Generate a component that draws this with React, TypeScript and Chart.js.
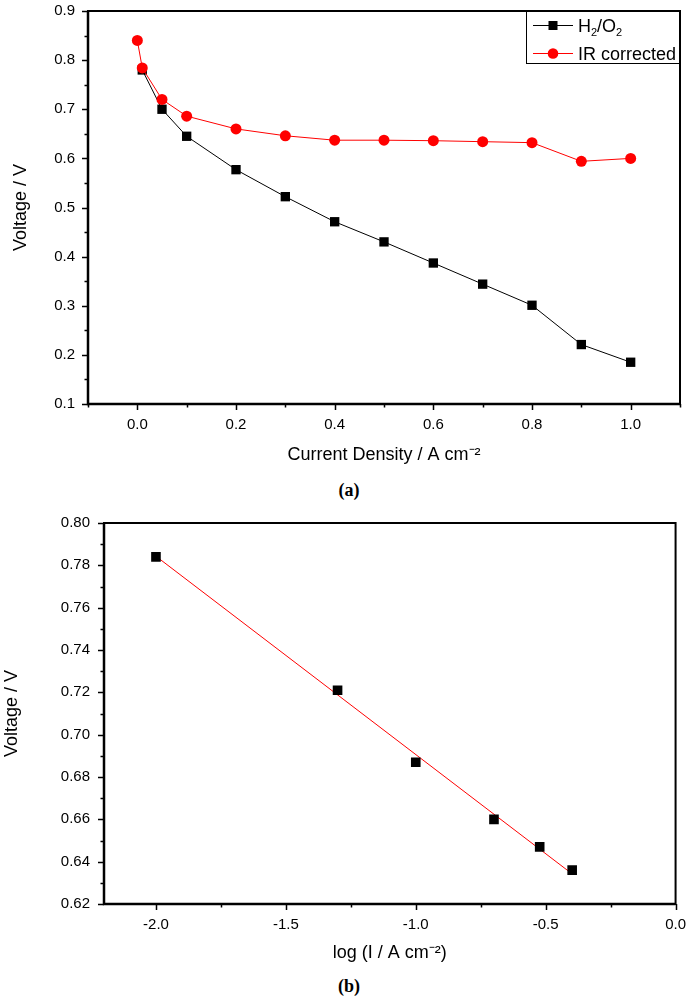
import React, { useEffect, useRef } from "react";
import { Chart, registerables } from "chart.js";

Chart.register(...registerables);

// ---------- Data: panel (a) polarization curves ----------
const currentDensity = [0, 0.01, 0.05, 0.1, 0.2, 0.3, 0.4, 0.5, 0.6, 0.7, 0.8, 0.9, 1.0];
const voltageH2O2: (number | null)[] = [null, 0.78, 0.7, 0.645, 0.577, 0.522, 0.471, 0.43, 0.387, 0.344, 0.301, 0.221, 0.185];
const voltageIRCorrected = [0.84, 0.784, 0.72, 0.686, 0.66, 0.646, 0.637, 0.637, 0.636, 0.634, 0.632, 0.594, 0.6];

// ---------- Data: panel (b) Tafel plot ----------
const logCurrent = [-2.0, -1.301, -1.0, -0.699, -0.523, -0.398];
const tafelVoltage = [0.784, 0.721, 0.687, 0.66, 0.647, 0.636];
const fitLogCurrent = [-2.0, -0.4];
const fitVoltage = [0.7843, 0.6344];

// ---------- Tick values ----------
const xMajorA = [0, 0.2, 0.4, 0.6, 0.8, 1.0];
const xMinorA = [-0.1, 0.1, 0.3, 0.5, 0.7, 0.9, 1.1];
const yMajorA = [0.1, 0.2, 0.3, 0.4, 0.5, 0.6, 0.7, 0.8, 0.9];
const yMinorA = [0.15, 0.25, 0.35, 0.45, 0.55, 0.65, 0.75, 0.85];

const xMajorB = [-2.0, -1.5, -1.0, -0.5, 0.0];
const xMinorB = [-1.75, -1.25, -0.75, -0.25];
const yMajorB = [0.62, 0.64, 0.66, 0.68, 0.7, 0.72, 0.74, 0.76, 0.78, 0.8];
const yMinorB = [0.63, 0.65, 0.67, 0.69, 0.71, 0.73, 0.75, 0.77, 0.79];

const FONT = "'Liberation Sans', Arial, sans-serif";

const frameTicksPlugin = {
  id: "frameTicks",
  afterDraw(chart: any, _args: any, opts: any) {
    const { ctx, chartArea } = chart;
    const { left, right, top, bottom } = chartArea;
    const xs = chart.scales.x;
    const ys = chart.scales.y;
    ctx.save();
    ctx.strokeStyle = "#000";
    ctx.lineWidth = 2;
    ctx.strokeRect(left, top, right - left, bottom - top);
    ctx.lineWidth = 2.5;
    ctx.beginPath();
    ctx.moveTo(left, top);
    ctx.lineTo(left, bottom);
    ctx.lineTo(right, bottom);
    ctx.stroke();
    ctx.lineWidth = 1.5;
    ctx.beginPath();
    (opts.xMajor || []).forEach((v: number) => {
      const p = Math.round(xs.getPixelForValue(v)) + 0.5;
      ctx.moveTo(p, bottom);
      ctx.lineTo(p, bottom + 6);
    });
    (opts.xMinor || []).forEach((v: number) => {
      const p = Math.round(xs.getPixelForValue(v)) + 0.5;
      ctx.moveTo(p, bottom);
      ctx.lineTo(p, bottom + 3.5);
    });
    (opts.yMajor || []).forEach((v: number) => {
      const p = Math.round(ys.getPixelForValue(v)) + 0.5;
      ctx.moveTo(left, p);
      ctx.lineTo(left - 6, p);
    });
    (opts.yMinor || []).forEach((v: number) => {
      const p = Math.round(ys.getPixelForValue(v)) + 0.5;
      ctx.moveTo(left, p);
      ctx.lineTo(left - 3.5, p);
    });
    ctx.stroke();
    ctx.restore();
  },
};

const legendBoxPlugin = {
  id: "legendBox",
  afterDraw(chart: any, _args: any, opts: any) {
    if (!opts || !opts.show) return;
    const { ctx, chartArea } = chart;
    const w = 154;
    const h = 53;
    const x0 = chartArea.right - w;
    const y0 = chartArea.top;
    ctx.save();
    ctx.fillStyle = "#fff";
    ctx.fillRect(x0, y0, w, h);
    ctx.strokeStyle = "#000";
    ctx.lineWidth = 1;
    ctx.strokeRect(x0 + 0.5, y0 + 0.5, w - 1, h - 1);

    const rows = [y0 + 14.5, y0 + 42.5];
    const ds = chart.data.datasets;
    rows.forEach((ry, i) => {
      const d = ds[i];
      ctx.strokeStyle = d.borderColor;
      ctx.lineWidth = 1;
      ctx.beginPath();
      ctx.moveTo(x0 + 7, ry);
      ctx.lineTo(x0 + 47, ry);
      ctx.stroke();
      ctx.fillStyle = d.pointBackgroundColor;
      if (d.pointStyle === "rect") {
        ctx.fillRect(x0 + 27 - 4.5, ry - 4.5, 9, 9);
      } else {
        ctx.beginPath();
        ctx.arc(x0 + 27, ry, 5.3, 0, Math.PI * 2);
        ctx.fill();
      }
    });

    // texts
    ctx.fillStyle = "#000";
    ctx.textBaseline = "alphabetic";
    const big = `18px ${FONT}`;
    const small = `11px ${FONT}`;
    let tx = x0 + 52;
    const b1 = rows[0] + 6.5;
    const parts: [string, boolean][] = [["H", false], ["2", true], ["/O", false], ["2", true]];
    parts.forEach(([t, sub]) => {
      ctx.font = sub ? small : big;
      ctx.fillText(t, tx, sub ? b1 + 4 : b1);
      tx += ctx.measureText(t).width;
    });
    ctx.font = big;
    ctx.fillText(ds[1].label, x0 + 52, rows[1] + 6.5);
    ctx.restore();
  },
};

function setTicks(values: number[]) {
  return (scale: any) => {
    scale.ticks = values.map((v) => ({ value: v }));
  };
}

function ChartA() {
  const ref = useRef<HTMLCanvasElement | null>(null);
  useEffect(() => {
    if (!ref.current) return;
    const chart = new Chart(ref.current, {
      type: "line",
      data: {
        datasets: [
          {
            label: "H2/O2",
            data: currentDensity.map((x, i) => ({ x, y: voltageH2O2[i] })),
            borderColor: "#000000",
            backgroundColor: "#000000",
            pointBackgroundColor: "#000000",
            pointBorderColor: "#000000",
            pointStyle: "rect",
            pointRadius: 6.6,
            pointBorderWidth: 0,
            borderWidth: 1,
            spanGaps: true,
            order: 2,
          },
          {
            label: "IR corrected",
            data: currentDensity.map((x, i) => ({ x, y: voltageIRCorrected[i] })),
            borderColor: "#ff0000",
            backgroundColor: "#ff0000",
            pointBackgroundColor: "#ff0000",
            pointBorderColor: "#ff0000",
            pointStyle: "circle",
            pointRadius: 5.5,
            pointBorderWidth: 0,
            borderWidth: 1,
            order: 1,
          },
        ] as any,
      },
      options: {
        responsive: false,
        animation: false,
        devicePixelRatio: 1,
        layout: { padding: { left: 0, right: 18, top: 21, bottom: 0 } },
        plugins: {
          legend: { display: false },
          tooltip: { enabled: false },
          frameTicks: { xMajor: xMajorA, xMinor: xMinorA, yMajor: yMajorA, yMinor: yMinorA },
          legendBox: { show: true },
        } as any,
        scales: {
          x: {
            type: "linear",
            min: -0.1,
            max: 1.1,
            grid: { display: false, drawTicks: false },
            border: { display: false },
            afterBuildTicks: setTicks(xMajorA),
            afterFit: (s: any) => {
              s.height = 66;
            },
            ticks: {
              padding: 12,
              color: "#000",
              font: { family: FONT, size: 15 },
              callback: (v: any) => Number(v).toFixed(1),
            },
            title: {
              display: true,
              text: "Current Density / A cm\u207B\u00B2",
              color: "#000",
              font: { family: FONT, size: 18 },
              padding: { top: 0, bottom: 4 },
            },
          },
          y: {
            type: "linear",
            min: 0.1,
            max: 0.9,
            grid: { display: false, drawTicks: false },
            border: { display: false },
            afterBuildTicks: setTicks(yMajorA),
            afterFit: (s: any) => {
              s.width = 88;
            },
            ticks: {
              padding: 13,
              color: "#000",
              font: { family: FONT, size: 15 },
              callback: (v: any) => Number(v).toFixed(1),
            },
            title: {
              display: true,
              text: "Voltage / V",
              color: "#000",
              font: { family: FONT, size: 18 },
              padding: { top: 10, bottom: 0 },
            },
          },
        },
      } as any,
      plugins: [frameTicksPlugin, legendBoxPlugin],
    });
    return () => chart.destroy();
  }, []);
  return <canvas ref={ref} width={698} height={481} style={{ position: "absolute", left: 0, top: -11 }} />;
}

function ChartB() {
  const ref = useRef<HTMLCanvasElement | null>(null);
  useEffect(() => {
    if (!ref.current) return;
    const chart = new Chart(ref.current, {
      type: "scatter",
      data: {
        datasets: [
          {
            label: "Tafel data",
            data: logCurrent.map((x, i) => ({ x, y: tafelVoltage[i] })),
            showLine: false,
            pointStyle: "rect",
            pointRadius: 6.8,
            pointBorderWidth: 0,
            pointBackgroundColor: "#000000",
            pointBorderColor: "#000000",
            backgroundColor: "#000000",
            borderColor: "#000000",
            order: 1,
          },
          {
            label: "Linear fit",
            type: "line",
            data: fitLogCurrent.map((x, i) => ({ x, y: fitVoltage[i] })),
            showLine: true,
            pointRadius: 0,
            borderColor: "#ff0000",
            backgroundColor: "#ff0000",
            borderWidth: 1,
            order: 2,
          },
        ] as any,
      },
      options: {
        responsive: false,
        animation: false,
        devicePixelRatio: 1,
        layout: { padding: { left: 0, right: 15, top: 21, bottom: 0 } },
        plugins: {
          legend: { display: false },
          tooltip: { enabled: false },
          frameTicks: { xMajor: xMajorB, xMinor: xMinorB, yMajor: yMajorB, yMinor: yMinorB },
          legendBox: { show: false },
        } as any,
        scales: {
          x: {
            type: "linear",
            min: -2.2,
            max: 0.0,
            grid: { display: false, drawTicks: false },
            border: { display: false },
            afterBuildTicks: setTicks(xMajorB),
            afterFit: (s: any) => {
              s.height = 66;
            },
            ticks: {
              padding: 12,
              color: "#000",
              font: { family: FONT, size: 15 },
              callback: (v: any) => Number(v).toFixed(1),
            },
            title: {
              display: true,
              text: "log (I / A cm\u207B\u00B2)",
              color: "#000",
              font: { family: FONT, size: 18 },
              padding: { top: 0, bottom: 6 },
            },
          },
          y: {
            type: "linear",
            min: 0.62,
            max: 0.8,
            grid: { display: false, drawTicks: false },
            border: { display: false },
            afterBuildTicks: setTicks(yMajorB),
            afterFit: (s: any) => {
              s.width = 104;
            },
            ticks: {
              padding: 14,
              color: "#000",
              font: { family: FONT, size: 15 },
              callback: (v: any) => Number(v).toFixed(2),
            },
            title: {
              display: true,
              text: "Voltage / V",
              color: "#000",
              font: { family: FONT, size: 18 },
              padding: { top: 1, bottom: 0 },
            },
          },
        },
      } as any,
      plugins: [frameTicksPlugin, legendBoxPlugin],
    });
    return () => chart.destroy();
  }, []);
  return <canvas ref={ref} width={698} height={470} style={{ position: "absolute", left: 0, top: 500 }} />;
}

const captionStyle: React.CSSProperties = {
  position: "absolute",
  left: 0,
  width: 698,
  textAlign: "center",
  fontFamily: "'Liberation Serif', 'Times New Roman', serif",
  fontWeight: "bold",
  fontSize: 18,
  lineHeight: "20px",
  color: "#000",
};

export default function App() {
  return (
    <div style={{ position: "absolute", left: 0, top: 0, width: 698, height: 1000, background: "#fff", overflow: "hidden" }}>
      <ChartA />
      <div style={{ ...captionStyle, top: 480 }}>(a)</div>
      <ChartB />
      <div style={{ ...captionStyle, top: 976 }}>(b)</div>
    </div>
  );
}
